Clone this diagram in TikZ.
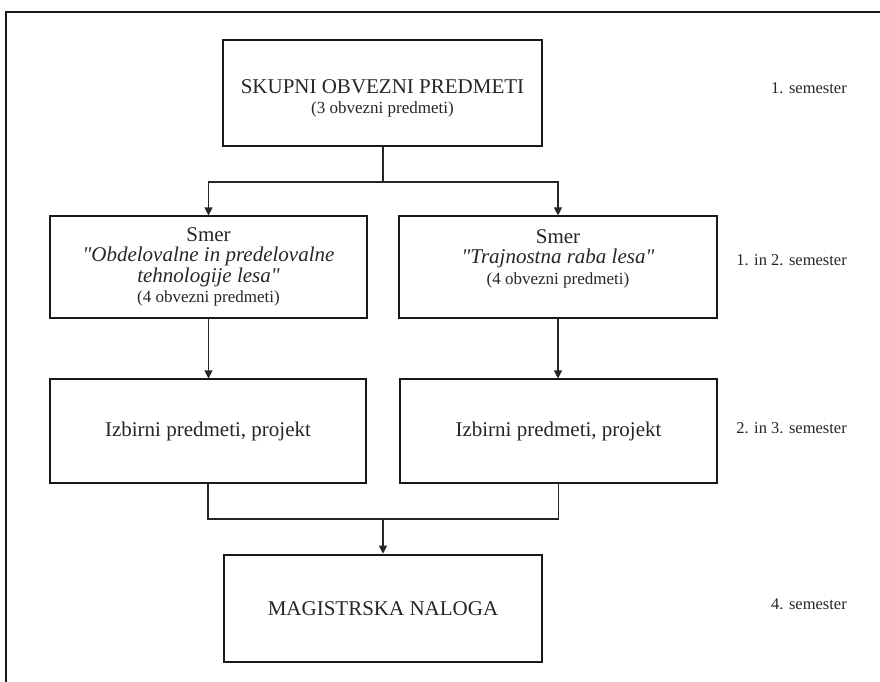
\documentclass[tikz,border=0pt]{standalone}
\usepackage{fontspec}
\setmainfont{Liberation Serif}
\usetikzlibrary{arrows.meta}
\tikzset{
  basebox/.style={draw=black!90, inner sep=0pt, align=center, text=black!85,
    font=\fontsize{21}{20.5}\selectfont},
  thinbox/.style={basebox, line width=1.1pt},
  thickbox/.style={basebox, line width=2.6pt},
  conn/.style={draw=black!85, line width=1.1pt},
  arr/.style={conn, -{Triangle[width=8pt,length=8pt]}},
  semlabel/.style={anchor=mid east, inner sep=0pt, text=black!85,
    font=\fontsize{16.5}{18}\selectfont},
  frameline/.style={draw=black!90, line width=1.6pt}
}
\newcommand{\smalltxt}[1]{{\fontsize{17}{20.5}\selectfont #1}}
\newcommand{\sq}{\XeTeXglyph\XeTeXcharglyph"22\relax}
\begin{document}
\begin{tikzpicture}[x=1pt,y=-1pt]
\useasboundingbox (0,0) rectangle (880,682);
\draw[frameline] (6,682) -- (6,12) -- (880,12);

\node[thickbox, minimum width=319pt, minimum height=106pt] (top) at (382.5,93)
  {\rule{0pt}{25pt}SKUPNI OBVEZNI PREDMETI\\ \smalltxt{(3 obvezni predmeti)}};

\node[thinbox, minimum width=317pt, minimum height=102pt] (midL) at (208.5,267)
  {Smer\\ {\itshape \sq Obdelovalne in predelovalne}\\ {\itshape tehnologije lesa\sq}\\ \smalltxt{(4 obvezni predmeti)}};
\node[thinbox, minimum width=318pt, minimum height=102pt] (midR) at (558,267)
  {Smer\\ {\itshape \sq Trajnostna raba lesa\sq}\\ \smalltxt{(4 obvezni predmeti)}\\ \mbox{}};

\node[thinbox, minimum width=316pt, minimum height=104pt] (lowL) at (208,431)
  {Izbirni predmeti, projekt};
\node[thinbox, minimum width=317pt, minimum height=104pt] (lowR) at (558.5,431)
  {Izbirni predmeti, projekt};

\node[thickbox, minimum width=318pt, minimum height=107pt] (bot) at (383,608.5)
  {MAGISTRSKA NALOGA};

\node[semlabel] (s1) at (847,91) {1. semester};
\node[semlabel] (s2) at (847,263) {1. in 2. semester};
\node[semlabel] (s3) at (847,431) {2. in 3. semester};
\node[semlabel] (s4) at (847,607) {4. semester};

\coordinate (j1) at (383,182);
\draw[conn] (top.south -| j1) -- (j1);
\draw[arr] (j1) -| (midL.north);
\draw[arr] (j1) -| (midR.north);

\draw[arr] (midL.south) -- (lowL.north -| midL.south);
\draw[arr] (midR.south) -- (lowR.north -| midR.south);

\coordinate (j2) at (383,519);
\draw[conn] (lowL.south) -- (lowL.south |- j2) -- (lowR.south |- j2) -- (lowR.south);
\draw[arr] (j2) -- (bot.north -| j2);
\end{tikzpicture}
\end{document}
